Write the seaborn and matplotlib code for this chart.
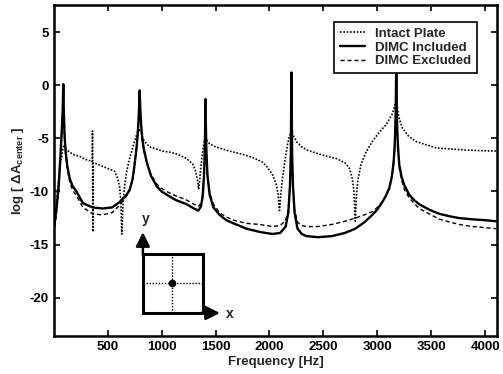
import matplotlib
matplotlib.use("Agg")
import matplotlib.pyplot as plt
import seaborn as sns
import pandas as pd
from matplotlib.patches import Rectangle

# ---------------- data ----------------
intact_f = [0, 20, 37, 60, 74, 85, 93, 105, 120, 150, 176, 241, 300, 350, 356, 359, 362, 366, 400,
            491, 565, 593, 611, 622, 630, 645, 660, 676, 700, 731, 760, 778, 796, 810, 824, 850,
            889, 950, 1009, 1074, 1148, 1231, 1287, 1310, 1324, 1335, 1343, 1352, 1362, 1372,
            1385, 1397, 1407, 1420, 1444, 1500, 1630, 1750, 1843, 1930, 1972, 2028, 2065, 2080,
            2093, 2105, 2120, 2145, 2167, 2185, 2204, 2220, 2250, 2300, 2350, 2435, 2540, 2620,
            2700, 2740, 2765, 2782, 2796, 2806, 2820, 2850, 2900, 2954, 3020, 3083, 3139, 3160,
            3176, 3200, 3231, 3290, 3361, 3450, 3546, 3680, 3824, 3950, 4100]
intact_v = [-13.0, -12.0, -9.7, -7.4, -6.6, -5.9, -5.6, -5.9, -6.1, -6.3, -6.5, -6.7, -7.0, -7.15, -7.2, -4.3, -13.8, -7.3, -7.4,
            -7.8, -8.1, -8.8, -9.6, -11.0, -14.0, -10.6, -9.2, -8.1, -7.0, -5.9, -4.9, -4.4, -4.1, -4.4, -5.0, -5.4,
            -5.8, -6.0, -6.2, -6.3, -6.5, -6.9, -7.4, -7.9, -8.5, -9.1, -9.8, -9.0, -7.9, -6.9,
            -5.9, -5.3, -5.0, -5.2, -5.5, -5.8, -6.2, -6.5, -6.8, -7.2, -7.6, -8.4, -9.4, -10.3,
            -11.8, -10.3, -8.8, -7.0, -5.6, -4.8, -4.3, -4.7, -5.3, -5.8, -6.1, -6.4, -6.7, -6.9,
            -7.3, -7.8, -8.6, -9.8, -12.8, -10.4, -8.9, -7.4, -6.2, -5.3, -4.4, -3.7, -2.7, -2.0,
            -1.4, -3.0, -4.0, -4.8, -5.3, -5.6, -5.9, -6.0, -6.1, -6.15, -6.2]

incl_f = [0, 20, 45, 62, 75, 82, 88, 92, 100, 110, 125, 148, 175, 210, 270, 360, 450, 540, 610, 676,
          705, 731, 745, 760, 770, 778, 785, 790, 796, 802, 808, 815, 824, 835, 861, 900, 954, 1000,
          1046, 1130, 1231, 1300, 1340, 1365, 1380, 1392, 1400, 1404, 1407, 1410, 1415, 1425, 1445,
          1480, 1537, 1600, 1667, 1787, 1907, 2028, 2100, 2150, 2175, 2190, 2198, 2204, 2210, 2218,
          2233, 2260, 2300, 2343, 2450, 2580, 2700, 2796, 2880, 2954, 3000, 3046, 3080, 3111, 3135,
          3150, 3160, 3166, 3171, 3176, 3181, 3186, 3192, 3204, 3225, 3250, 3296, 3340, 3389, 3480,
          3574, 3680, 3759, 3880, 4000, 4100]
incl_v = [-13.5, -12.0, -9.5, -6.5, -4.0, -2.4, 0.1, -2.2, -4.8, -6.3, -7.6, -8.8, -9.5, -10.0, -11.1, -11.5, -11.6, -11.5, -11.0, -10.3,
          -9.8, -8.8, -7.8, -6.5, -5.6, -4.6, -3.4, -2.2, -0.5, -2.2, -3.4, -4.4, -5.3, -6.0, -7.2, -8.5, -9.5, -10.0,
          -10.3, -10.8, -11.2, -11.6, -11.8, -11.4, -10.5, -8.7, -6.2, -3.7, -1.3, -3.7, -6.2, -8.5, -10.3,
          -11.5, -12.2, -12.7, -13.0, -13.5, -13.8, -14.0, -13.9, -13.3, -12.0, -9.5, -6.5, 1.2, -6.5, -9.5,
          -12.0, -13.5, -14.0, -14.2, -14.3, -14.2, -13.9, -13.5, -12.9, -12.2, -11.7, -11.0, -10.4, -9.7, -8.6,
          -7.4, -6.0, -4.4, -2.5, 2.0, -2.5, -4.4, -5.8, -7.5, -8.6, -9.4, -10.3, -10.8, -11.2, -11.7,
          -12.1, -12.35, -12.5, -12.62, -12.7, -12.8]

excl_f = [0, 20, 45, 62, 75, 82, 88, 92, 100, 110, 125, 148, 175, 210, 270, 360, 450, 540, 610, 676,
          705, 731, 745, 760, 770, 778, 785, 790, 796, 802, 808, 815, 824, 835, 861, 900, 954, 1000,
          1046, 1130, 1231, 1300, 1340, 1365, 1380, 1392, 1400, 1404, 1407, 1410, 1415, 1425, 1445,
          1480, 1537, 1600, 1667, 1787, 1907, 2028, 2100, 2150, 2175, 2190, 2198, 2204, 2210, 2218,
          2233, 2260, 2300, 2343, 2450, 2580, 2700, 2796, 2880, 2954, 3000, 3046, 3080, 3111, 3135,
          3150, 3160, 3166, 3171, 3176, 3181, 3186, 3192, 3204, 3225, 3250, 3296, 3340, 3389, 3480,
          3574, 3680, 3759, 3880, 4000, 4100]
excl_v = [-14.0, -12.5, -10.0, -6.9, -4.3, -2.7, -0.3, -2.5, -5.1, -6.6, -7.9, -9.1, -9.9, -10.4, -11.5, -12.1, -12.2, -12.0, -11.3, -10.4,
          -9.9, -8.9, -7.9, -6.6, -5.7, -4.7, -3.5, -2.4, -1.0, -2.4, -3.5, -4.6, -5.6, -6.2, -7.3, -8.4, -9.3, -9.7,
          -10.0, -10.4, -10.8, -11.2, -11.4, -11.1, -10.3, -8.6, -6.2, -3.8, -1.5, -3.8, -6.2, -8.4, -10.1,
          -11.2, -12.0, -12.4, -12.7, -13.0, -13.1, -13.3, -13.2, -12.7, -11.7, -9.4, -6.5, -1.0, -6.5, -9.4,
          -11.7, -12.9, -13.2, -13.3, -13.3, -13.1, -12.8, -12.5, -12.2, -11.9, -11.5, -11.0, -10.4, -9.6, -8.6,
          -7.4, -6.0, -4.4, -2.5, 1.5, -2.5, -4.4, -5.9, -7.8, -8.9, -9.8, -10.6, -11.1, -11.6, -12.1,
          -12.6, -12.9, -13.1, -13.3, -13.4, -13.5]

labels = ["Intact Plate", "DIMC Included", "DIMC Excluded"]
x_ticks = [500, 1000, 1500, 2000, 2500, 3000, 3500, 4000]
y_ticks = [-20, -15, -10, -5, 0, 5]

# ---------------- plotting ----------------
sns.set_theme(style="ticks")
plt.rcParams["font.family"] = ["Liberation Sans", "DejaVu Sans"]
plt.rcParams["font.weight"] = "bold"
plt.rcParams["mathtext.default"] = "regular"
plt.rcParams["axes.unicode_minus"] = False

fig = plt.figure(figsize=(5.03, 3.74), dpi=100)
ax = fig.add_axes([0.107, 0.1016, 0.881, 0.885])

df_i = pd.DataFrame({"f": intact_f, "v": intact_v})
df_n = pd.DataFrame({"f": incl_f, "v": incl_v})
df_e = pd.DataFrame({"f": excl_f, "v": excl_v})

sns.lineplot(data=df_i, x="f", y="v", ax=ax, color="black", lw=1.2,
             linestyle=(0, (1, 1)), estimator=None, sort=False, label=labels[0])
sns.lineplot(data=df_n, x="f", y="v", ax=ax, color="black", lw=1.7,
             linestyle="-", estimator=None, sort=False, label=labels[1])
sns.lineplot(data=df_e, x="f", y="v", ax=ax, color="black", lw=1.0,
             linestyle=(0, (3, 2)), estimator=None, sort=False, label=labels[2])

ax.set_xlim(0, 4110)
ax.set_ylim(-23.6, 7.55)
ax.set_xticks(x_ticks)
ax.set_yticks(y_ticks)
ax.tick_params(direction="in", length=4, width=1.2, top=True, right=True,
               labelsize=9.5, pad=3.5, colors="black")
for lab in ax.get_xticklabels() + ax.get_yticklabels():
    lab.set_fontweight("bold")
for s in ax.spines.values():
    s.set_linewidth(1.8)
    s.set_color("black")

ax.set_xlabel("Frequency [Hz]", fontsize=9.5, fontweight="bold", labelpad=2)
ax.set_ylabel(r"log [ $\Delta A_{center}$ ]", fontsize=9.5, fontweight="bold", labelpad=3)

leg = ax.legend(loc="upper right", bbox_to_anchor=(0.955, 0.949),
                prop={"size": 9.5, "weight": "bold"},
                frameon=True, fancybox=False, edgecolor="black", framealpha=1,
                handlelength=1.9, borderpad=0.45, labelspacing=0.1, handletextpad=0.75,
                borderaxespad=0)
leg.get_frame().set_linewidth(1.2)

# ---------------- inset sketch (axes coordinates) ----------------
T = ax.transAxes
x0, x1, yb, yt = 0.201, 0.336, 0.0695, 0.248
ax.add_patch(Rectangle((x0, yb), x1 - x0, yt - yb, transform=T, fill=False,
                       edgecolor="black", lw=2.2, zorder=5))
xc, yc = 0.266, 0.160
ax.plot([xc, xc], [yb, yt], transform=T, color="black", lw=1.0, ls=(0, (1, 1.2)), zorder=5)
ax.plot([x0, x1], [yc, yc], transform=T, color="black", lw=1.0, ls=(0, (1, 1.2)), zorder=5)
ax.plot([xc], [yc], "o", transform=T, color="black", ms=4.5, zorder=6)
ax.annotate("", xy=(x0, 0.322), xytext=(x0, yt - 0.01), xycoords=T, textcoords=T,
            arrowprops=dict(arrowstyle="-|>,head_length=0.7,head_width=0.35", color="black", lw=1.8), zorder=6)
ax.annotate("", xy=(0.381, yb), xytext=(x1 - 0.01, yb), xycoords=T, textcoords=T,
            arrowprops=dict(arrowstyle="-|>,head_length=0.7,head_width=0.35", color="black", lw=1.8), zorder=6)
ax.text(0.207, 0.355, "y", transform=T, fontsize=10, fontweight="bold", ha="center", va="center")
ax.text(0.398, 0.065, "x", transform=T, fontsize=10, fontweight="bold", ha="center", va="center")

fig.savefig("out.png", dpi=100)
